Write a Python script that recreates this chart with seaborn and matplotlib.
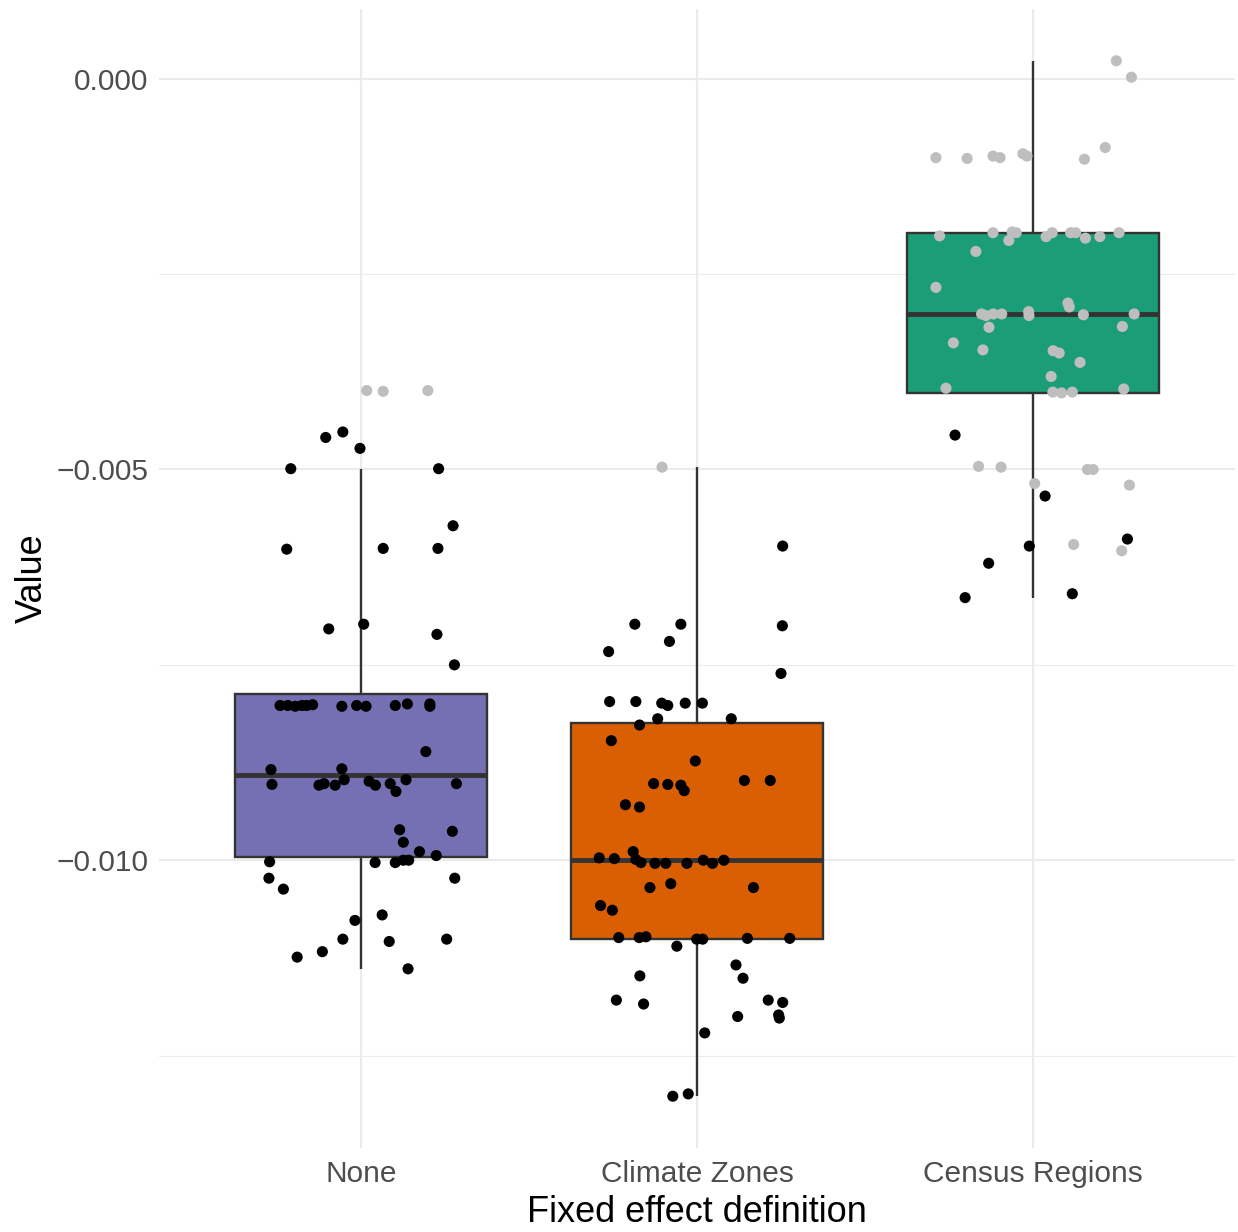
import matplotlib
matplotlib.use("Agg")
import matplotlib.pyplot as plt
import numpy as np
import pandas as pd
import seaborn as sns

# ---------------- data ----------------
categories = ["None", "Climate Zones", "Census Regions"]
box_colors = ["#7570B3", "#D95F02", "#1B9E77"]

none_values = [
    -0.00399, -0.00400, -0.00399,
    -0.00459, -0.00452, -0.00473, -0.00499, -0.00499, -0.00572, -0.00602, -0.00601,
    -0.00601, -0.00704, -0.00698, -0.00711, -0.00750,
    -0.00802, -0.00802, -0.00803, -0.00802, -0.00801, -0.00803, -0.00802, -0.00803,
    -0.00802, -0.00800, -0.00800, -0.00803, -0.00802,
    -0.00861, -0.00884, -0.00883,
    -0.00903, -0.00904, -0.00902, -0.00904, -0.00897, -0.00899, -0.00904, -0.00902,
    -0.00912, -0.00897, -0.00902,
    -0.00961, -0.00963, -0.00977, -0.00989, -0.00994,
    -0.01002, -0.01003, -0.01003, -0.01000, -0.01000,
    -0.01023, -0.01023, -0.01037, -0.01070, -0.01077,
    -0.01101, -0.01104, -0.01101, -0.01117, -0.01124, -0.01139,
]
none_jitter = [
    0.017, 0.066, 0.199,
    -0.105, -0.054, -0.003, -0.209, 0.231, 0.274, -0.221, 0.066,
    0.229, -0.096, 0.008, 0.226, 0.278,
    -0.241, -0.218, -0.196, -0.162, -0.144, -0.057, -0.013, 0.015,
    0.102, 0.138, 0.205, 0.205, -0.176,
    0.193, -0.268, -0.057,
    -0.265, -0.125, -0.110, -0.077, -0.050, 0.024, 0.043, 0.087,
    0.104, 0.134, 0.284,
    0.115, 0.272, 0.126, 0.174, 0.224,
    -0.272, 0.042, 0.102, 0.126, 0.142,
    -0.274, 0.279, -0.231, 0.063, -0.018,
    -0.054, 0.084, 0.255, -0.115, -0.190, 0.140,
]
none_shade = ["grey"] * 3 + ["black"] * 61

climate_values = [
    -0.00497,
    -0.00598, -0.00698, -0.00698, -0.00700, -0.00720, -0.00733, -0.00761,
    -0.00797, -0.00797, -0.00799, -0.00802, -0.00799, -0.00799,
    -0.00819, -0.00819, -0.00827, -0.00847, -0.00873,
    -0.00902, -0.00903, -0.00904, -0.00911, -0.00898, -0.00898,
    -0.00929, -0.00932,
    -0.00997, -0.00998, -0.00989, -0.00999, -0.01003, -0.01004, -0.01004, -0.01004,
    -0.01000, -0.01004, -0.01000,
    -0.01035, -0.01030, -0.01035, -0.01058, -0.01064,
    -0.01099, -0.01099, -0.01098, -0.01101, -0.01101, -0.01100, -0.01100, -0.01110,
    -0.01134, -0.01151, -0.01148,
    -0.01179, -0.01184, -0.01179, -0.01182, -0.01198, -0.01202, -0.01200,
    -0.01221, -0.01302, -0.01299,
]
climate_jitter = [
    -0.104,
    0.255, -0.185, -0.048, 0.254, -0.082, -0.263, 0.250,
    -0.260, -0.182, -0.105, -0.087, -0.035, 0.016,
    -0.117, 0.102, -0.171, -0.255, -0.005,
    -0.129, -0.087, -0.048, -0.038, 0.141, 0.218,
    -0.213, -0.171,
    -0.291, -0.246, -0.190, -0.182, -0.167, -0.125, -0.093, -0.030,
    0.019, 0.046, 0.080,
    -0.140, -0.078, 0.168, -0.287, -0.252,
    -0.233, -0.172, -0.152, -0.001, 0.017, 0.150, 0.276, -0.060,
    0.116, 0.137, -0.170,
    -0.240, -0.159, 0.212, 0.255, 0.243, 0.245, 0.121,
    0.023, -0.072, -0.026,
]
climate_shade = ["grey"] + ["black"] * 63

census_values = [
    0.00023, 0.00002,
    -0.00101, -0.00102, -0.00099, -0.00101, -0.00096, -0.00099, -0.00103, -0.00088,
    -0.00201, -0.00197, -0.00196, -0.00197, -0.00207, -0.00202, -0.00197, -0.00197,
    -0.00197, -0.00204, -0.00202, -0.00197, -0.00221, -0.00267,
    -0.00301, -0.00303, -0.00301, -0.00301, -0.00298, -0.00303, -0.00287, -0.00292,
    -0.00302, -0.00301, -0.00318, -0.00317,
    -0.00338, -0.00347, -0.00348, -0.00351, -0.00363, -0.00381,
    -0.00396, -0.00401, -0.00402, -0.00401, -0.00397,
    -0.00456, -0.00496, -0.00497, -0.00500, -0.00500, -0.00518, -0.00534, -0.00520,
    -0.00598, -0.00596, -0.00589, -0.00604, -0.00620, -0.00664, -0.00659,
]
census_jitter = [
    0.248, 0.293,
    -0.289, -0.196, -0.119, -0.098, -0.030, -0.018, 0.153, 0.215,
    -0.278, -0.119, -0.062, -0.050, -0.072, 0.039, 0.057, 0.112,
    0.127, 0.156, 0.199, 0.256, -0.170, -0.289,
    -0.153, -0.140, -0.118, -0.093, -0.013, -0.012, 0.104, 0.108,
    0.150, 0.301, -0.131, 0.266,
    -0.237, -0.149, 0.060, 0.078, 0.140, 0.054,
    -0.259, 0.059, 0.085, 0.117, 0.270,
    -0.232, -0.162, -0.095, 0.162, 0.179, 0.005, 0.036, 0.287,
    -0.011, 0.121, 0.281, 0.264, -0.132, -0.202, 0.117,
]
census_shade = (["grey"] * 47 + ["black"] + ["grey"] * 5 + ["black", "grey",
                "black", "grey", "black", "grey", "black", "black", "black"])

ytick_values = [0.000, -0.005, -0.010]
ytick_labels = ["0.000", "\u22120.005", "\u22120.010"]
yminor_values = [-0.0025, -0.0075, -0.0125]

# ---------------- assemble ----------------
frames = []
for i, (cat, vals, jit, shade) in enumerate([
        (categories[0], none_values, none_jitter, none_shade),
        (categories[1], climate_values, climate_jitter, climate_shade),
        (categories[2], census_values, census_jitter, census_shade)]):
    frames.append(pd.DataFrame({"group": cat, "value": vals,
                                "xpos": np.array(jit) + i, "shade": shade}))
df = pd.concat(frames, ignore_index=True)

# ---------------- style ----------------
sns.set_style("white")
plt.rcParams["font.family"] = ["Liberation Sans", "DejaVu Sans"]
plt.rcParams["axes.unicode_minus"] = True

W, H = 1238, 1232
fig = plt.figure(figsize=(W / 100, H / 100), dpi=100)
ax = fig.add_axes([159.4 / W, 1 - 1148 / H, (1234.6 - 159.4) / W, (1148 - 9) / H])

sns.boxplot(data=df, x="group", y="value", order=categories, hue="group",
            hue_order=categories, palette=box_colors, legend=False,
            width=0.75, whis=1.5, showfliers=False, showcaps=False,
            saturation=1, linecolor="#333333", linewidth=1.7,
            medianprops=dict(linewidth=3.5, color="#333333"),
            ax=ax, zorder=2)

sns.scatterplot(data=df, x="xpos", y="value", hue="shade",
                palette={"black": "#000000", "grey": "#BEBEBE"},
                s=64, linewidth=0, legend=False, ax=ax, zorder=3)

lo, hi = df["value"].min(), df["value"].max()
pad = 0.05 * (hi - lo)
ax.set_ylim(lo - pad, hi + pad)
ax.set_xlim(-0.6, 2.6)

ax.set_xticks(range(len(categories)))
ax.set_xticklabels(categories)
ax.set_yticks(ytick_values)
ax.set_yticklabels(ytick_labels)
ax.set_yticks(yminor_values, minor=True)

ax.set_axisbelow(True)
ax.grid(which="major", color="#EBEBEB", linewidth=1.5)
ax.grid(which="minor", axis="y", color="#EBEBEB", linewidth=0.8)
for s in ax.spines.values():
    s.set_visible(False)

ax.tick_params(axis="both", which="both", length=0, labelsize=21.5,
               labelcolor="#4D4D4D")
ax.tick_params(axis="x", pad=9)
ax.tick_params(axis="y", pad=8)
ax.set_xlabel("Fixed effect definition", fontsize=26, color="black", labelpad=5)
ax.set_ylabel("Value", fontsize=26, color="black", labelpad=5)

fig.savefig("out.png", dpi=100)
